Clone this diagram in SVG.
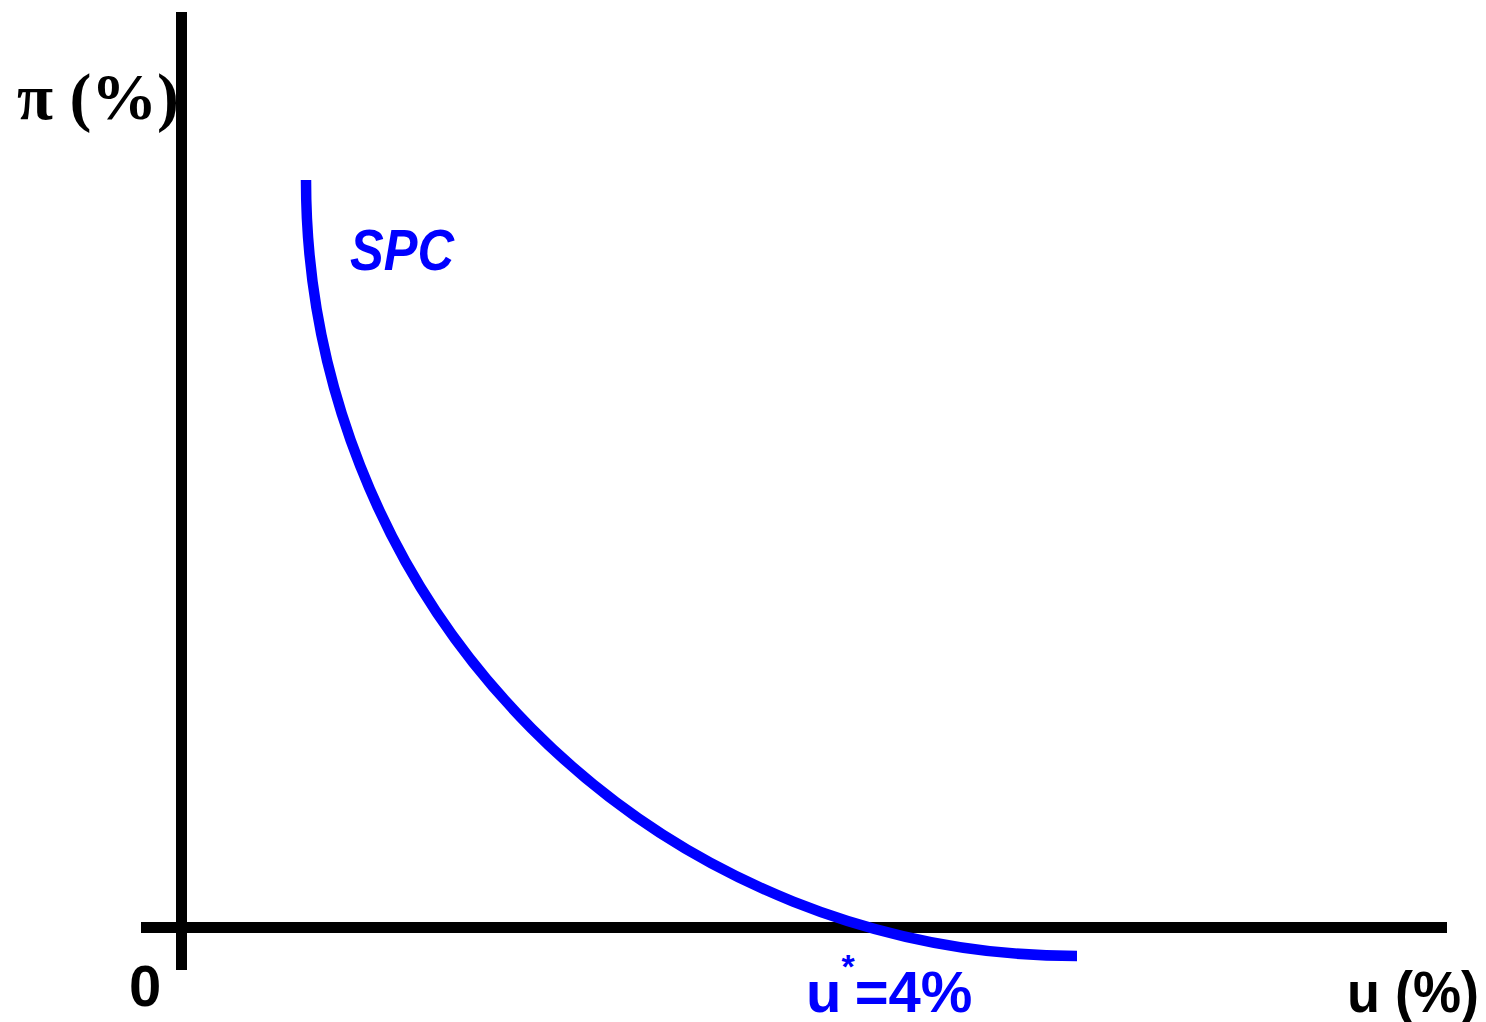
<svg xmlns="http://www.w3.org/2000/svg" width="1486" height="1022" viewBox="0 0 1486 1022">
  <style>
    .axis { stroke: #000; stroke-width: 11; fill: none; }
    .curve { stroke: #0000ff; stroke-width: 10.5; fill: none; }
    .lbl { font-family: "Liberation Sans", Arial, sans-serif; font-weight: bold; font-size: 58px; }
    .serif { font-family: "Liberation Serif", "Times New Roman", serif; font-weight: bold; font-size: 65px; }
  </style>
  <rect width="1486" height="1022" fill="#fff"/>
  <g id="label-pi">
    <text class="serif" x="17" y="119" fill="#000" textLength="162" lengthAdjust="spacingAndGlyphs">π (%)</text>
  </g>
  <g id="axes">
    <line class="axis" x1="181.5" y1="12" x2="181.5" y2="970"/>
    <line class="axis" x1="141" y1="927.5" x2="1447" y2="927.5"/>
  </g>
  <g id="spc-curve">
    <path class="curve" d="M306,180 A771,776 0 0 0 1077,956"/>
  </g>
  <g id="label-spc">
    <text class="lbl" x="350" y="270" fill="#0000ff" font-style="italic" textLength="104" lengthAdjust="spacingAndGlyphs">SPC</text>
  </g>
  <g id="label-origin">
    <text class="lbl" x="129" y="1006" fill="#000" font-size="55">0</text>
  </g>
  <g id="label-ustar">
    <text class="lbl" x="806" y="1012" fill="#0000ff">u<tspan font-size="34" dy="-34">*</tspan><tspan dy="34">=4%</tspan></text>
  </g>
  <g id="label-u">
    <text class="lbl" x="1347" y="1012" fill="#000" textLength="132" lengthAdjust="spacingAndGlyphs">u (%)</text>
  </g>
</svg>
